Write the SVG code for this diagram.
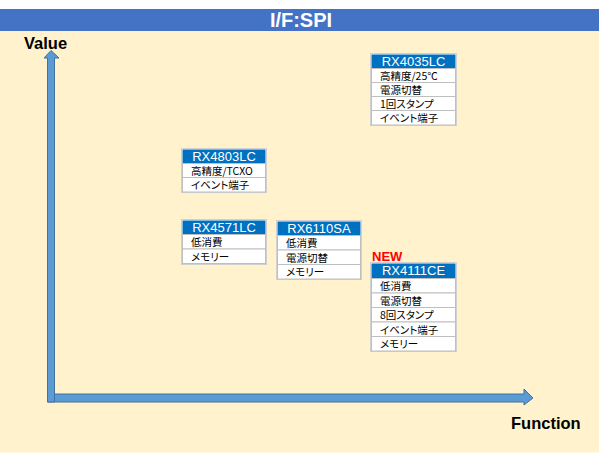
<svg xmlns="http://www.w3.org/2000/svg" width="600" height="463" viewBox="0 0 600 463">
<style>
.hd{fill:#0070C0;}
.cell{fill:#FFFFFF;stroke:#BFBFBF;stroke-width:1;}
.outer{fill:#FFFFFF;stroke:#D0D0D0;stroke-width:1;}
.ht{font-family:"Liberation Sans",Arial,sans-serif;font-size:13px;fill:#FFFFFF;text-anchor:middle;}
.rt{font-family:"Noto Sans CJK JP","Liberation Sans",sans-serif;font-size:10.5px;fill:#000000;font-feature-settings:"palt";}
.ax{font-family:"Liberation Sans",Arial,sans-serif;font-size:16.5px;font-weight:bold;fill:#000000;}
.arrow{fill:#5B9BD5;stroke:#41719C;stroke-width:1;}
</style>
<rect x="0" y="0" width="600" height="463" fill="#FFFFFF"/>
<rect x="0" y="31" width="599" height="421.5" fill="#FFF2CC"/>
<g id="title">
<rect x="0" y="9" width="599" height="22" fill="#4472C4"/>
<text x="301" y="26.5" font-family="Liberation Sans,Arial,sans-serif" font-size="20" font-weight="bold" fill="#FFFFFF" text-anchor="middle">I/F:SPI</text>
</g>
<g id="connectors">
<path class="arrow" d="M47.5,394 L524,394 L524,389 L533,398 L524,405 L524,402 L47.5,402 Z"/>
<path class="arrow" d="M47.5,402 L47.5,58 L44,58 L51,50.5 L59,58 L54.5,58 L54.5,402 Z"/>
<text class="ax" x="24" y="48.5">Value</text>
<text class="ax" x="511" y="428.5">Function</text>
</g>
<g id="RX4035LC">
<rect class="outer" x="370.5" y="53.5" width="86" height="72"/>
<rect class="hd" x="371.5" y="54.5" width="84" height="13.5"/>
<text class="ht" x="413.5" y="65.5">RX4035LC</text>
<rect class="cell" x="371.5" y="68.5" width="84" height="14"/>
<text class="rt" x="380" y="80">高精度/25℃</text>
<rect class="cell" x="371.5" y="82.5" width="84" height="14"/>
<text class="rt" x="380" y="94">電源切替</text>
<rect class="cell" x="371.5" y="96.5" width="84" height="14"/>
<text class="rt" x="380" y="108">1回スタンプ</text>
<rect class="cell" x="371.5" y="110.5" width="84" height="14.5"/>
<text class="rt" x="380" y="122">イベント端子</text>
</g>
<g id="RX4803LC">
<rect class="outer" x="181.5" y="148.5" width="85" height="44"/>
<rect class="hd" x="182.5" y="149.5" width="83" height="13.5"/>
<text class="ht" x="224" y="160.5">RX4803LC</text>
<rect class="cell" x="182.5" y="163.5" width="83" height="14"/>
<text class="rt" x="191" y="175">高精度/TCXO</text>
<rect class="cell" x="182.5" y="177.5" width="83" height="14.5"/>
<text class="rt" x="191" y="189">イベント端子</text>
</g>
<g id="RX4571LC">
<rect class="outer" x="181.5" y="219.5" width="85" height="45"/>
<rect class="hd" x="182.5" y="220.5" width="83" height="13.5"/>
<text class="ht" x="224" y="231.5">RX4571LC</text>
<rect class="cell" x="182.5" y="234.5" width="83" height="14.5"/>
<text class="rt" x="191" y="246">低消費</text>
<rect class="cell" x="182.5" y="249" width="83" height="14.5"/>
<text class="rt" x="191" y="260.5">メモリー</text>
</g>
<g id="RX6110SA">
<rect class="outer" x="276.5" y="220.5" width="85" height="59"/>
<rect class="hd" x="277.5" y="221.5" width="83" height="13.5"/>
<text class="ht" x="319" y="232.5">RX6110SA</text>
<rect class="cell" x="277.5" y="235.5" width="83" height="14.5"/>
<text class="rt" x="286" y="247">低消費</text>
<rect class="cell" x="277.5" y="250" width="83" height="14.5"/>
<text class="rt" x="286" y="261.5">電源切替</text>
<rect class="cell" x="277.5" y="264.5" width="83" height="14.5"/>
<text class="rt" x="286" y="276">メモリー</text>
</g>
<g id="RX4111CE">
<text x="372" y="261" font-family="Liberation Sans,Arial,sans-serif" font-size="13" font-weight="bold" fill="#FF0000">NEW</text>
<rect class="outer" x="370.5" y="262.5" width="86" height="89"/>
<rect class="hd" x="371.5" y="263.5" width="84" height="14.5"/>
<text class="ht" x="413.5" y="275">RX4111CE</text>
<rect class="cell" x="371.5" y="278.5" width="84" height="14.5"/>
<text class="rt" x="380" y="290">低消費</text>
<rect class="cell" x="371.5" y="293" width="84" height="14.5"/>
<text class="rt" x="380" y="304.5">電源切替</text>
<rect class="cell" x="371.5" y="307.5" width="84" height="14.5"/>
<text class="rt" x="380" y="319">8回スタンプ</text>
<rect class="cell" x="371.5" y="322" width="84" height="14.5"/>
<text class="rt" x="380" y="333.5">イベント端子</text>
<rect class="cell" x="371.5" y="336.5" width="84" height="14.5"/>
<text class="rt" x="380" y="348">メモリー</text>
</g>
</svg>
